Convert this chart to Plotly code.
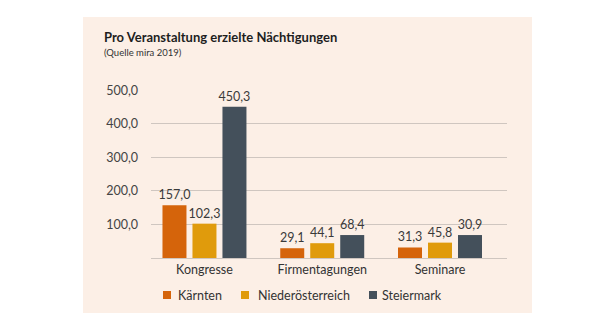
import plotly.graph_objects as go

categories = ["Kongresse", "Firmentagungen", "Seminare"]
series_names = ["Kärnten", "Niederösterreich", "Steiermark"]
kaernten = [157.0, 29.1, 31.3]
niederoesterreich = [102.3, 44.1, 45.8]
steiermark = [450.3, 68.4, 68.4]
kaernten_labels = ["157,0", "29,1", "31,3"]
niederoesterreich_labels = ["102,3", "44,1", "45,8"]
steiermark_labels = ["450,3", "68,4", "30,9"]
tick_values = [100, 200, 300, 400, 500]
tick_labels = ["100,0", "200,0", "300,0", "400,0", "500,0"]
colors = ["#d5640b", "#e09b0c", "#44505b"]

FONT = "Lato"
fig = go.Figure()
for name, vals, labs, col in zip(series_names,
                                 [kaernten, niederoesterreich, steiermark],
                                 [kaernten_labels, niederoesterreich_labels, steiermark_labels],
                                 colors):
    fig.add_trace(go.Bar(
        x=categories, y=vals, name=name, marker_color=col, marker_line_width=0,
        text=labs, textposition="outside", cliponaxis=False, constraintext="none",
        textfont=dict(family=FONT, size=12.5, color="#3a3a3a"),
        showlegend=False,
    ))

W, H = 613, 330
L, R, T, B = 151, 106, 90, 72
pw, ph = W - L - R, H - T - B

def px(x):
    return (x - L) / pw

def py(y):
    return (H - B - y) / ph

fig.add_shape(type="rect", xref="paper", yref="paper",
              x0=px(83), x1=px(532), y0=py(313), y1=py(17),
              fillcolor="#fcefe6", line_width=0, layer="below")

fig.add_annotation(xref="paper", yref="paper", x=px(102), y=py(37),
                   xanchor="left", yanchor="middle", showarrow=False,
                   text="<b>Pro Veranstaltung erzielte Nächtigungen</b>",
                   font=dict(family=FONT, size=13, color="#1e1e1e"))
fig.add_annotation(xref="paper", yref="paper", x=px(102), y=py(53),
                   xanchor="left", yanchor="middle", showarrow=False,
                   text="(Quelle mira 2019)",
                   font=dict(family=FONT, size=9.5, color="#333333"))

# legend (drawn as shapes + text)
legend_square_x = [163, 241, 369]
legend_text_x = [176, 256, 380]
for name, col, sx, tx in zip(series_names, colors, legend_square_x, legend_text_x):
    fig.add_shape(type="rect", xref="paper", yref="paper",
                  x0=px(sx), x1=px(sx + 8), y0=py(299), y1=py(291),
                  fillcolor=col, line_width=0)
    fig.add_annotation(xref="paper", yref="paper", x=px(tx), y=py(295),
                       xanchor="left", yanchor="middle", showarrow=False,
                       text=name, font=dict(family=FONT, size=12.5, color="#333333"))

fig.update_layout(
    width=W, height=H, margin=dict(l=L, r=R, t=T, b=B, pad=0),
    paper_bgcolor="white", plot_bgcolor="rgba(0,0,0,0)",
    barmode="group", bargap=0.236, bargroupgap=0.2,
    separators=",.",
    showlegend=False,
    xaxis=dict(range=[-0.454, 2.569], showgrid=False, showline=False, ticks="",
               tickfont=dict(family=FONT, size=12.5, color="#333333"), ticklabelstandoff=2),
    yaxis=dict(range=[0, 500.5], tickvals=tick_values, ticktext=tick_labels,
               showgrid=True, gridcolor="#cfc6c0", gridwidth=1,
               zeroline=True, zerolinecolor="#cfc6c0", zerolinewidth=1,
               showline=False, ticks="", ticklabelstandoff=12,
               tickfont=dict(family=FONT, size=12.5, color="#444444")),
)

fig.write_html("out.html")
